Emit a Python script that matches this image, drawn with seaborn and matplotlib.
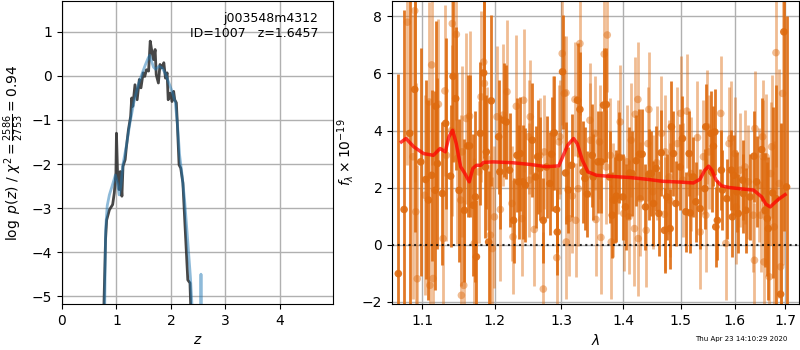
import matplotlib
matplotlib.use('Agg')
import matplotlib.pyplot as plt
from matplotlib.ticker import FixedLocator, NullLocator, FormatStrFormatter
import seaborn as sns

# p(z) curves (left panel)
z_chi = [0.75, 0.77, 0.80, 0.82, 0.87, 0.93, 0.96, 0.99, 1.00, 1.02, 1.05, 1.07, 1.10,
         1.12, 1.16, 1.18, 1.22, 1.26, 1.28, 1.30, 1.34, 1.38, 1.42, 1.45, 1.49, 1.52,
         1.55, 1.59, 1.62, 1.65, 1.68, 1.71, 1.73, 1.77, 1.80, 1.84, 1.87, 1.90, 1.93,
         1.95, 1.99, 2.02, 2.05, 2.07, 2.10, 2.12, 2.15, 2.18, 2.22, 2.26, 2.31, 2.35,
         2.37, 2.39]
logp_chi = [-8.0, -5.2, -3.7, -3.27, -3.04, -2.92, -2.66, -2.2, -1.3, -2.2, -2.58, -2.17,
            -2.73, -2.05, -1.9, -1.64, -1.22, -0.92, -0.5, -0.69, -0.2, -0.54, -0.08,
            -0.27, 0.07, -0.01, 0.14, 0.11, 0.79, 0.56, 0.37, 0.6, 0.03, -0.16, 0.26,
            0.18, 0.3, -0.05, 0.07, -0.54, -0.39, -0.58, -0.35, -0.54, -0.61, -1.14,
            -2.02, -2.09, -2.43, -3.42, -4.63, -4.7, -5.5, -8.0]

z_pz = [0.76, 0.80, 0.83, 0.87, 0.92, 0.98, 1.02, 1.05, 1.08, 1.12, 1.18, 1.25, 1.32,
        1.40, 1.47, 1.53, 1.58, 1.61, 1.64, 1.68, 1.72, 1.78, 1.84, 1.90, 1.96, 2.02,
        2.08, 2.12, 2.16, 2.20, 2.25, 2.30, 2.36, 2.40, 2.45, 2.53, 2.545, 2.552, 2.56, 2.60]
logp_pz = [-8.0, -3.5, -2.95, -2.7, -2.5, -2.25, -2.45, -2.7, -2.5, -2.0, -1.6, -1.05,
           -0.6, -0.2, 0.05, 0.25, 0.4, 0.47, 0.35, 0.2, 0.15, 0.22, 0.18, 0.05, -0.15,
           -0.35, -0.6, -1.1, -1.8, -2.2, -2.8, -3.6, -4.6, -5.5, -7.0, -7.0, -6.0, -4.5,
           -6.0, -8.0]

# spectrum (right panel), first set
lam_a = [1.0691, 1.0765, 1.0838, 1.0903, 1.0982, 1.1048, 1.1084, 1.1127, 1.1173, 1.1181,
         1.1204, 1.1271, 1.1315, 1.1383, 1.1416, 1.1452, 1.1499, 1.1572, 1.1618, 1.1645,
         1.1693, 1.1726, 1.1740, 1.1796, 1.1843, 1.1867, 1.1881, 1.1914, 1.1952, 1.2058,
         1.2075, 1.2130, 1.2169, 1.2217, 1.2276, 1.2326, 1.2350, 1.2375, 1.2415, 1.2450,
         1.2554, 1.2604, 1.2634, 1.2670, 1.2721, 1.2771, 1.2822, 1.2847, 1.2889, 1.2925,
         1.2936, 1.3018, 1.3065, 1.3108, 1.3160, 1.3254, 1.3292, 1.3345, 1.3372, 1.3409,
         1.3489, 1.3505, 1.3582, 1.3636, 1.3674, 1.3719, 1.3773, 1.3818, 1.3856, 1.3884,
         1.3938, 1.3995, 1.4039, 1.4106, 1.4152, 1.4220, 1.4276, 1.4322, 1.4379, 1.4438,
         1.4478, 1.4518, 1.4565, 1.4612, 1.4653, 1.4711, 1.4753, 1.4811, 1.4834, 1.4870,
         1.4912, 1.4989, 1.5031, 1.5093, 1.5153, 1.5171, 1.5231, 1.5275, 1.5353, 1.5440,
         1.5458, 1.5551, 1.5566, 1.5600, 1.5626, 1.5644, 1.5674, 1.5750, 1.5768, 1.5852,
         1.5939, 1.5958, 1.5990, 1.6042, 1.6072, 1.6157, 1.6169, 1.6221, 1.6299, 1.6377,
         1.6430, 1.6529, 1.6595, 1.6641, 1.6661, 1.6748, 1.6815, 1.6909, 1.6975, 1.7030]
flux_a = [-1.02, 1.23, 3.9, 5.44, 2.9, 2.28, 1.56, 2.43, 1.9, 4.85,
          2.84, 1.79, 4.25, 2.4, 5.9, 5.12, 1.9, 1.2, 3.46, 3.46,
          1.38, 1.67, -0.43, 3.9, 6.02, 2.72, 3.25, 0.09, 5.04, 3.78,
          2.55, 4.36, 4.3, 2.61, 0.85, 3.13, 2.2, 3.19, 2.2, 2.08,
          3.66, 2.37, 3.08, 2.67, 0.85, 2.72, 2.14, 3.17, 3.92, 1.23,
          0.44, 6.06, 2.51, 1.91, 2.78, 5.06, 4.74, 2.55, 2.32, 1.77,
          3.13, 2.37, 2.9, 2.9, 4.89, 4.91, 2.37, 1.03, 1.56, 1.7,
          3.05, 1.67, 1.32, 2.51, 2.49, 2.94, 3.17, 3.17, 1.32, 2.47,
          2.49, 1.44, 2.67, 1.09, 3.22, 0.5, 1.67, 0.56, 4.13, 3.19,
          1.44, 2.72, 3.72, 1.15, 3.19, 1.11, 2.37, 1.5, 1.26, 1.96,
          4.13, 3.9, 2.55, 3.45, 3.95, 0.62, 0.85, 2.61, 1.91, 1.61,
          2.61, 0.97, 2.43, 1.85, 1.09, 2.26, 1.79, 1.2, 1.67, 3.1,
          2.2, 3.33, 1.2, 0.91, 0.56, 1.81, 1.61, -1.74, 7.46, 2.02]
err_a = [7, 7, 7, 5, 4, 3.5, 3.5, 3, 3.5, 3,
         3, 2.5, 3, 2.5, 3, 2.5, 2.5, 2.5, 2.5, 2.5,
         2.5, 3, 2, 2.5, 3, 2.5, 2, 2.5, 3, 2,
         2, 2, 2, 2, 1.5, 2, 2, 2, 2, 2,
         2, 1.8, 2, 1.8, 1.5, 1.8, 1.8, 2, 2, 1.5,
         1.5, 2, 1.8, 1.5, 1.8, 2, 2, 1.8, 1.8, 1.5,
         1.8, 1.5, 1.8, 1.8, 2, 2, 1.6, 1.5, 1.5, 1.6,
         1.6, 1.5, 1.5, 1.6, 1.5, 1.6, 1.6, 1.6, 1.5, 1.6,
         1.5, 1.5, 1.5, 1.5, 1.5, 1.5, 1.5, 1.4, 1.6, 1.5,
         1.5, 1.5, 1.5, 1.4, 1.5, 1.4, 1.4, 1.4, 1.4, 1.4,
         1.5, 1.5, 1.4, 1.4, 1.5, 1.4, 1.4, 1.4, 1.4, 1.4,
         1.4, 1.4, 1.4, 1.4, 1.4, 1.4, 1.4, 1.5, 1.5, 1.6,
         1.6, 1.8, 2, 2, 2.5, 3, 4, 6, 7, 6]

# spectrum, second set
lam_b = [1.0808, 1.0903, 1.0880, 1.0917, 1.0936, 1.1037, 1.1093, 1.1103, 1.1127, 1.1146,
         1.1217, 1.1280, 1.1305, 1.1325, 1.1397, 1.1406, 1.1461, 1.1475, 1.1521, 1.1531,
         1.1540, 1.1563, 1.1600, 1.1645, 1.1711, 1.1772, 1.1806, 1.1843, 1.1853, 1.1891,
         1.1938, 1.1967, 1.1996, 1.2034, 1.2082, 1.2121, 1.2179, 1.2252, 1.2267, 1.2316,
         1.2400, 1.2424, 1.2499, 1.2506, 1.2524, 1.2584, 1.2670, 1.2721, 1.2736, 1.2874,
         1.2928, 1.2962, 1.2977, 1.3013, 1.3045, 1.3071, 1.3076, 1.3119, 1.3171, 1.3213,
         1.3226, 1.3265, 1.3292, 1.3452, 1.3460, 1.3533, 1.3550, 1.3608, 1.3631, 1.3685,
         1.3735, 1.3719, 1.3785, 1.3802, 1.3830, 1.3912, 1.3950, 1.4009, 1.4063, 1.4096,
         1.4135, 1.4191, 1.4203, 1.4249, 1.4254, 1.4288, 1.4391, 1.4420, 1.4438, 1.4507,
         1.4574, 1.4658, 1.4711, 1.4723, 1.4793, 1.4802, 1.4941, 1.4998, 1.5040, 1.5111,
         1.5184, 1.5304, 1.5353, 1.5414, 1.5458, 1.5488, 1.5519, 1.5738, 1.5833, 1.5895,
         1.5927, 1.6009, 1.6028, 1.6105, 1.6202, 1.6266, 1.6364, 1.6387, 1.6397, 1.6481,
         1.6509, 1.6549, 1.6561, 1.6574, 1.6614, 1.6680, 1.6708, 1.6728, 1.6780, 1.6815,
         1.6881, 1.6909, 1.6949]
flux_b = [7.8, 8.2, 3.08, 1.15, -1.2, 1.73, 5.0, -1.43, 6.3, -1.19,
          4.92, 0.21, 5.39, 3.13, 4.0, 7.75, 7.37, 3.02, 1.56, -1.78,
          3.25, -1.43, 4.42, 4.5, 0.04, 2.55, 5.18, 6.4, 5.65, 3.02,
          0.33, -0.14, 0.97, 4.48, 1.23, 4.54, 5.36, 1.44, 0.27, 4.85,
          0.91, 5.06, 3.78, 2.26, 4.48, 0.53, 3.13, -1.56, 3.25, 3.9,
          -0.46, 3.6, 3.78, 6.7, 5.3, 5.32, 0.09, 0.91, 1.7, 5.09,
          0.85, 1.96, 7.05, 4.36, 3.66, 3.9, 0.88, 3.6, 0.25, 6.68,
          7.35, 2.72, 3.13, 0.09, 1.56, 3.08, 4.3, 1.09, 2.9, 0.97,
          3.66, 0.56, 4.57, 5.09, 0.21, 1.61, 0.5, 3.54, 4.74, 1.85,
          2.87, 3.9, 1.06, 3.25, 2.37, 1.56, 3.54, 4.6, 2.26, 4.68,
          2.49, 3.75, 0.44, 3.08, 1.03, 4.13, 3.25, 4.6, 0.04, 3.54,
          3.72, 3.19, 1.32, 2.61, 2.72, 2.2, 1.03, -0.55, 4.07, 2.08,
          1.03, 3.78, 3.08, -0.61, 3.08, -1.13, 2.49, 3.43, 0.62, 6.73,
          2.14, -0.78, 5.3]
err_b = [5, 6, 5, 4.5, 4, 3.5, 3.5, 3, 3.5, 3,
         3, 3, 3, 3, 3, 3, 3, 3, 3, 3,
         3, 3, 3, 3, 3, 2.5, 3, 3, 3, 2.5,
         2.5, 2.5, 2.5, 2.5, 2.5, 2.5, 2.5, 2, 2, 2.5,
         2, 2.5, 2, 2, 2, 2, 2, 2, 2, 2,
         2, 2, 2, 2.5, 2, 2, 2, 2, 2, 2,
         2, 2, 2.5, 2, 2, 2, 2, 2, 2, 2,
         2, 2, 2, 2, 2, 2, 2, 2, 2, 2,
         2, 2, 2, 2, 2, 2, 2, 2, 2, 2,
         2, 2, 2, 2, 2, 2, 2, 2, 2, 2,
         2, 2, 2, 2, 2, 2, 2, 2, 2, 2,
         2, 2, 2, 2, 2, 2, 2, 2, 2, 2,
         2, 2, 2, 2, 2.2, 2.5, 2.5, 2.5, 3, 4,
         4, 5, 6]

# best-fit model
lam_model = [1.073, 1.079, 1.089, 1.102, 1.115, 1.124, 1.131, 1.136, 1.141, 1.146,
             1.152, 1.158, 1.164, 1.169, 1.174, 1.180, 1.184, 1.198, 1.226, 1.252,
             1.277, 1.296, 1.302, 1.310, 1.319, 1.325, 1.333, 1.342, 1.356, 1.373,
             1.412, 1.440, 1.467, 1.500, 1.523, 1.535, 1.544, 1.551, 1.557, 1.565,
             1.575, 1.590, 1.615, 1.637, 1.653, 1.661, 1.670, 1.676, 1.686, 1.700]
flux_model = [3.6, 3.72, 3.43, 3.19, 3.13, 3.37, 3.25, 3.78, 4.01, 3.54,
              2.73, 2.49, 2.2, 2.67, 2.78, 2.78, 2.88, 2.9, 2.87, 2.81,
              2.73, 2.76, 3.08, 3.49, 3.72, 3.54, 2.96, 2.55, 2.43, 2.4,
              2.35, 2.29, 2.22, 2.19, 2.16, 2.29, 2.61, 2.75, 2.61, 2.26,
              2.06, 2.0, 1.95, 1.91, 1.67, 1.42, 1.32, 1.42, 1.58, 1.75]

lam_ticks = [1.1, 1.2, 1.3, 1.4, 1.5, 1.6, 1.7]

fig = plt.figure(figsize=(8, 3.5), dpi=100)
ax1 = fig.add_axes([0.0775, 0.131, 0.339, 0.866])
ax2 = fig.add_axes([0.49, 0.131, 0.509, 0.866])

# left: redshift probability
sns.lineplot(x=z_chi, y=logp_chi, color='0.2', lw=2, alpha=0.9, sort=False,
             estimator=None, ax=ax1)
sns.lineplot(x=z_pz, y=logp_pz, color='tab:blue', lw=2, alpha=0.5, sort=False,
             estimator=None, ax=ax1)
ax1.set_xlim(0, 4.98)
ax1.set_ylim(-5.18, 1.7)
ax1.set_xticks([0, 1, 2, 3, 4])
ax1.set_yticks([-5, -4, -3, -2, -1, 0, 1])
ax1.grid(True, color='#b0b0b0', lw=1)
ax1.set_axisbelow(True)
ax1.set_xlabel(r'$z$')
ax1.set_ylabel(r'$\log\ p(z)$ / $\chi^2=\frac{2586}{2753}=0.94$')
ax1.text(0.945, 0.965, 'j003548m4312\nID=1007   z=1.6457', ha='right', va='top',
         transform=ax1.transAxes, fontsize=9)

# right: spectrum
col = (0.87, 0.42, 0.06)
ax2.errorbar(lam_b, flux_b, yerr=err_b, fmt='none', ecolor=col, elinewidth=2,
             alpha=0.45)
sns.scatterplot(x=lam_b, y=flux_b, color=col, s=30, alpha=0.45, edgecolor='none',
                ax=ax2)
ax2.errorbar(lam_a, flux_a, yerr=err_a, fmt='none', ecolor=col, elinewidth=2,
             alpha=0.9)
sns.scatterplot(x=lam_a, y=flux_a, color=col, s=30, alpha=0.9, edgecolor='none',
                ax=ax2)
sns.lineplot(x=lam_model, y=flux_model, color='red', lw=2.5, alpha=0.75, sort=False,
             estimator=None, ax=ax2)
ax2.axhline(0, color='k', ls=':', lw=1.5, alpha=0.8)

ax2.set_xscale('log')
ax2.set_xlim(1.061, 1.729)
ax2.xaxis.set_major_locator(FixedLocator(lam_ticks))
ax2.xaxis.set_major_formatter(FormatStrFormatter('%.1f'))
ax2.xaxis.set_minor_locator(NullLocator())
ax2.set_ylim(-2.09, 8.54)
ax2.set_yticks([-2, 0, 2, 4, 6, 8])
ax2.grid(True, color='#b0b0b0', lw=1)
ax2.set_axisbelow(True)
ax2.set_xlabel(r'$\lambda$')
ax2.set_ylabel(r'$f_\lambda\times10^{-19}$')

fig.text(0.984, 0.031, 'Thu Apr 23 14:10:29 2020', ha='right', va='center', fontsize=5)

fig.savefig('out.png', dpi=100)
